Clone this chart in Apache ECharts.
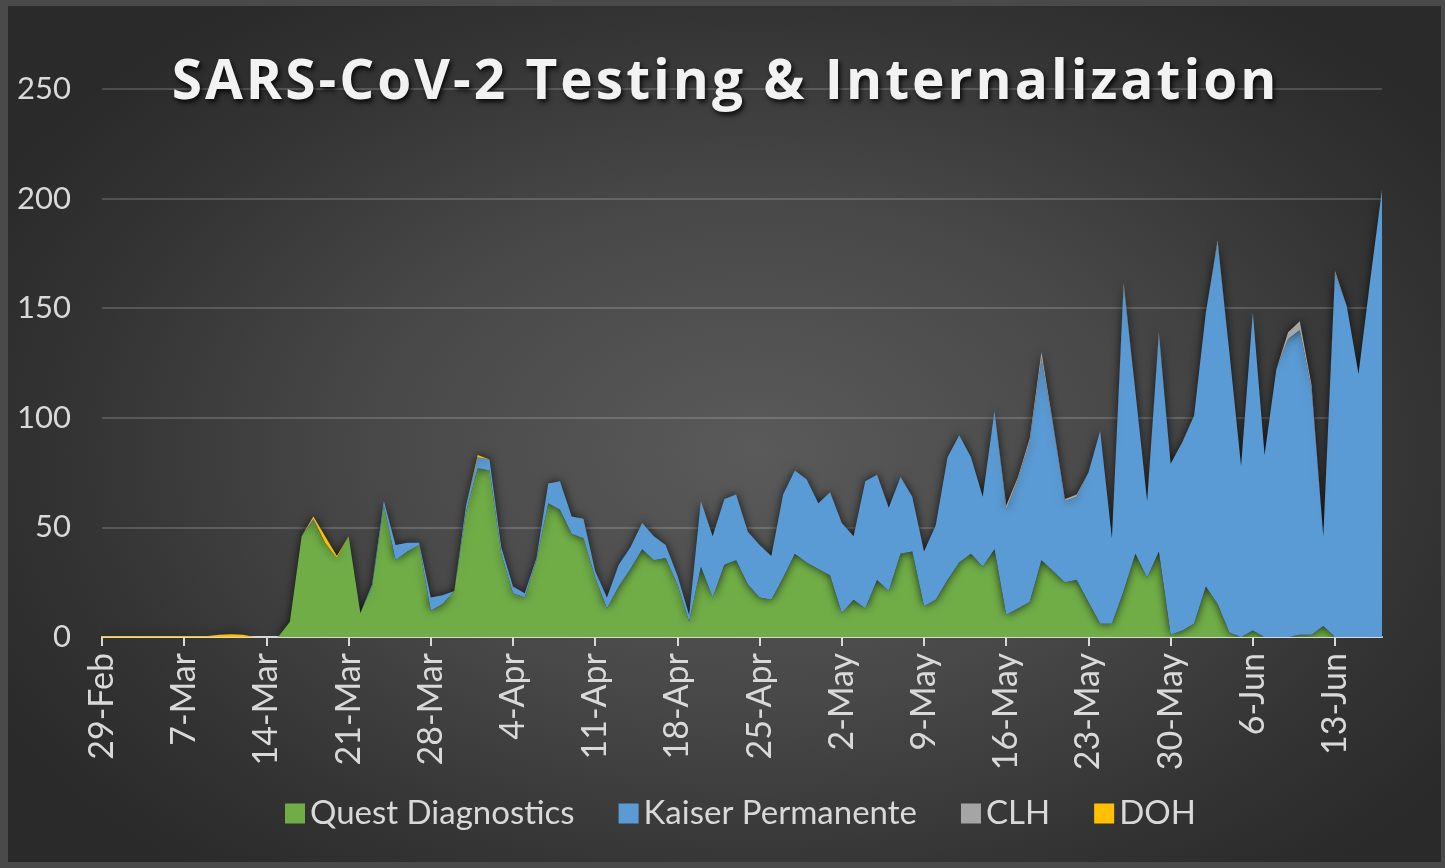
<!DOCTYPE html>
<html>
<head>
<meta charset="utf-8">
<script src="https://cdn.jsdelivr.net/npm/echarts@6/dist/echarts.min.js"></script>
<style>
  html, body { margin: 0; padding: 0; width: 1445px; height: 868px; overflow: hidden; background: #1e1e1e; }
  #frame { position: absolute; left: 0; top: 0; width: 1445px; height: 868px; box-sizing: border-box;
    border-style: solid; border-width: 6px 4px 6px 8px; border-color: #4a4a4a;
    background: radial-gradient(ellipse 60% 65% at 52% 52%, #5a5a5a 0%, #484848 45%, #333333 80%, #2a2a2a 100%); }
  #chart { position: absolute; left: 0; top: 0; width: 1445px; height: 868px; }
  #title { position: absolute; left: 0; top: 50px; width: 1445px; padding-left: 6px; box-sizing: border-box;
    text-align: center; font-family: "Open Sans", sans-serif; font-weight: bold; font-size: 55px;
    line-height: 55px; letter-spacing: 3px; color: #f2f2f2; white-space: nowrap; z-index: 2;
    text-shadow: 2px 3px 5px rgba(0,0,0,0.85); pointer-events: none; }
</style>
</head>
<body>
<div id="frame"></div>
<div id="chart"></div>
<div id="title">SARS-CoV-2 Testing &amp; Internalization</div>
<script>
// Categories: daily dates 29-Feb .. 17-Jun
const monthNames = ['Feb', 'Mar', 'Apr', 'May', 'Jun'];
const monthDays = [29, 31, 30, 31, 17];
const monthStart = [29, 1, 1, 1, 1];
const categories = [];
for (let m = 0; m < monthNames.length; m++) {
  for (let d = monthStart[m]; d <= monthDays[m]; d++) categories.push(d + '-' + monthNames[m]);
}

const yTicks = [0, 50, 100, 150, 200, 250];

const quest = [
  0,0,0,0,0,0,0,0,0,0,
  0,0,0,0,0,0,7,46,53,43,
  36,46,11,23,60,35,39,42,12,15,
  21,57,77,76,38,20,18,35,61,58,
  47,45,27,13,23,31,40,35,36,24,
  7,32,18,33,35,24,18,17,27,38,
  34,31,28,11,17,13,26,21,38,39,
  14,17,26,34,38,32,40,10,13,16,
  35,30,25,26,16,6,6,21,38,27,
  39,1,3,6,23,15,2,0,3,0,
  0,0,1,1,5,0,0,0,0,0
];
const kaiser = [
  0,0,0,0,0,0,0,0,0,0,
  0,0,0,0,0,0,0,0,1,0,
  0,0,0,1,2,7,4,1,6,4,
  0,3,5,5,3,3,2,1,9,13,
  8,9,3,5,10,10,12,11,6,4,
  3,30,28,30,30,24,24,20,38,38,
  38,30,38,41,29,58,48,38,35,25,
  25,34,56,58,44,32,63,48,59,73,
  92,66,37,38,59,88,39,139,74,35,
  99,78,86,95,125,165,128,78,145,83,
  122,136,139,112,41,166,151,120,163,204
];
const clh = [
  0,0,0,0,0,0,0,0,0,0,
  0,0,0,0,0,0,0,0,0,0,
  0,0,0,0,0,0,0,0,0,0,
  0,0,0,0,0,0,0,0,0,0,
  0,0,0,0,0,0,0,0,0,0,
  0,0,0,0,0,0,0,0,0,0,
  0,0,0,0,0,0,0,0,0,0,
  0,0,0,0,0,0,0,2,1,1.5,
  3,1,1,1,0,0,0,1.5,0,0,
  1,0,0,0,0,1,0,0,0,0,
  0,3,4,2,0,1,0,0,0,0
];
const doh = [
  0.5,0.5,0.5,0.5,0.5,0.5,0.5,0.5,0.5,0.5,
  1,1.2,1,0,0,0,0,0,1,3,
  1,0,0,0,0,0,0,0,0,0,
  0,0,1,0,0,0,0,0,0,0,
  0,0,0,0,0,0,0,0,0,0,
  0,0,0,0,0,0,0,0,0,0,
  0,0,0,0,0,0,0,0,0,0,
  0,0,0,0,0,0,0,0,0,0,
  0,0,0,0,0,0,0,0,0,0,
  0,0,0,0,0,0,0,0,0,0,
  0,0,0,0,0,0,0,0,0,0
];

const seriesNames = ['Quest Diagnostics', 'Kaiser Permanente', 'CLH', 'DOH'];
const seriesColors = ['#70ad47', '#5b9bd5', '#a5a5a5', '#ffc000'];
const seriesData = [quest, kaiser, clh, doh];

const chart = echarts.init(document.getElementById('chart'), null, { renderer: 'canvas' });
const font = 'Lato, "Open Sans", sans-serif';

chart.setOption({
  backgroundColor: 'transparent',
  animation: false,
  legend: {
    data: seriesNames,
    top: 792,
    left: 280,
    icon: 'rect',
    itemWidth: 20,
    itemHeight: 20,
    itemGap: 44,
    textStyle: { fontFamily: font, fontSize: 33, color: '#d9d9d9' }
  },
  grid: { left: 102, right: 63, top: 89, bottom: 231, containLabel: false },
  xAxis: {
    type: 'category',
    data: categories,
    boundaryGap: false,
    axisLine: { lineStyle: { color: '#d9d9d9', width: 2 } },
    axisTick: { show: true, interval: 6, length: 9, lineStyle: { color: '#d9d9d9', width: 2 } },
    axisLabel: { interval: 6, rotate: 90, margin: 16, fontFamily: font, fontSize: 34, color: '#d9d9d9' },
    splitLine: { show: false }
  },
  yAxis: {
    type: 'value',
    min: yTicks[0],
    max: yTicks[yTicks.length - 1],
    interval: 50,
    axisLine: { show: false },
    axisTick: { show: false },
    axisLabel: { margin: 31, fontFamily: font, fontSize: 31, color: '#d9d9d9' },
    splitLine: { lineStyle: { color: 'rgba(255,255,255,0.17)', width: 2 } }
  },
  series: seriesNames.map((name, k) => ({
    name: name,
    type: 'line',
    stack: 'total',
    data: seriesData[k],
    symbol: 'none',
    smooth: false,
    lineStyle: { width: 0 },
    itemStyle: { color: seriesColors[k] },
    areaStyle: {
      color: seriesColors[k],
      opacity: 1,
      shadowColor: 'rgba(0,0,0,0.75)',
      shadowBlur: 10
    }
  }))
});
</script>
</body>
</html>
